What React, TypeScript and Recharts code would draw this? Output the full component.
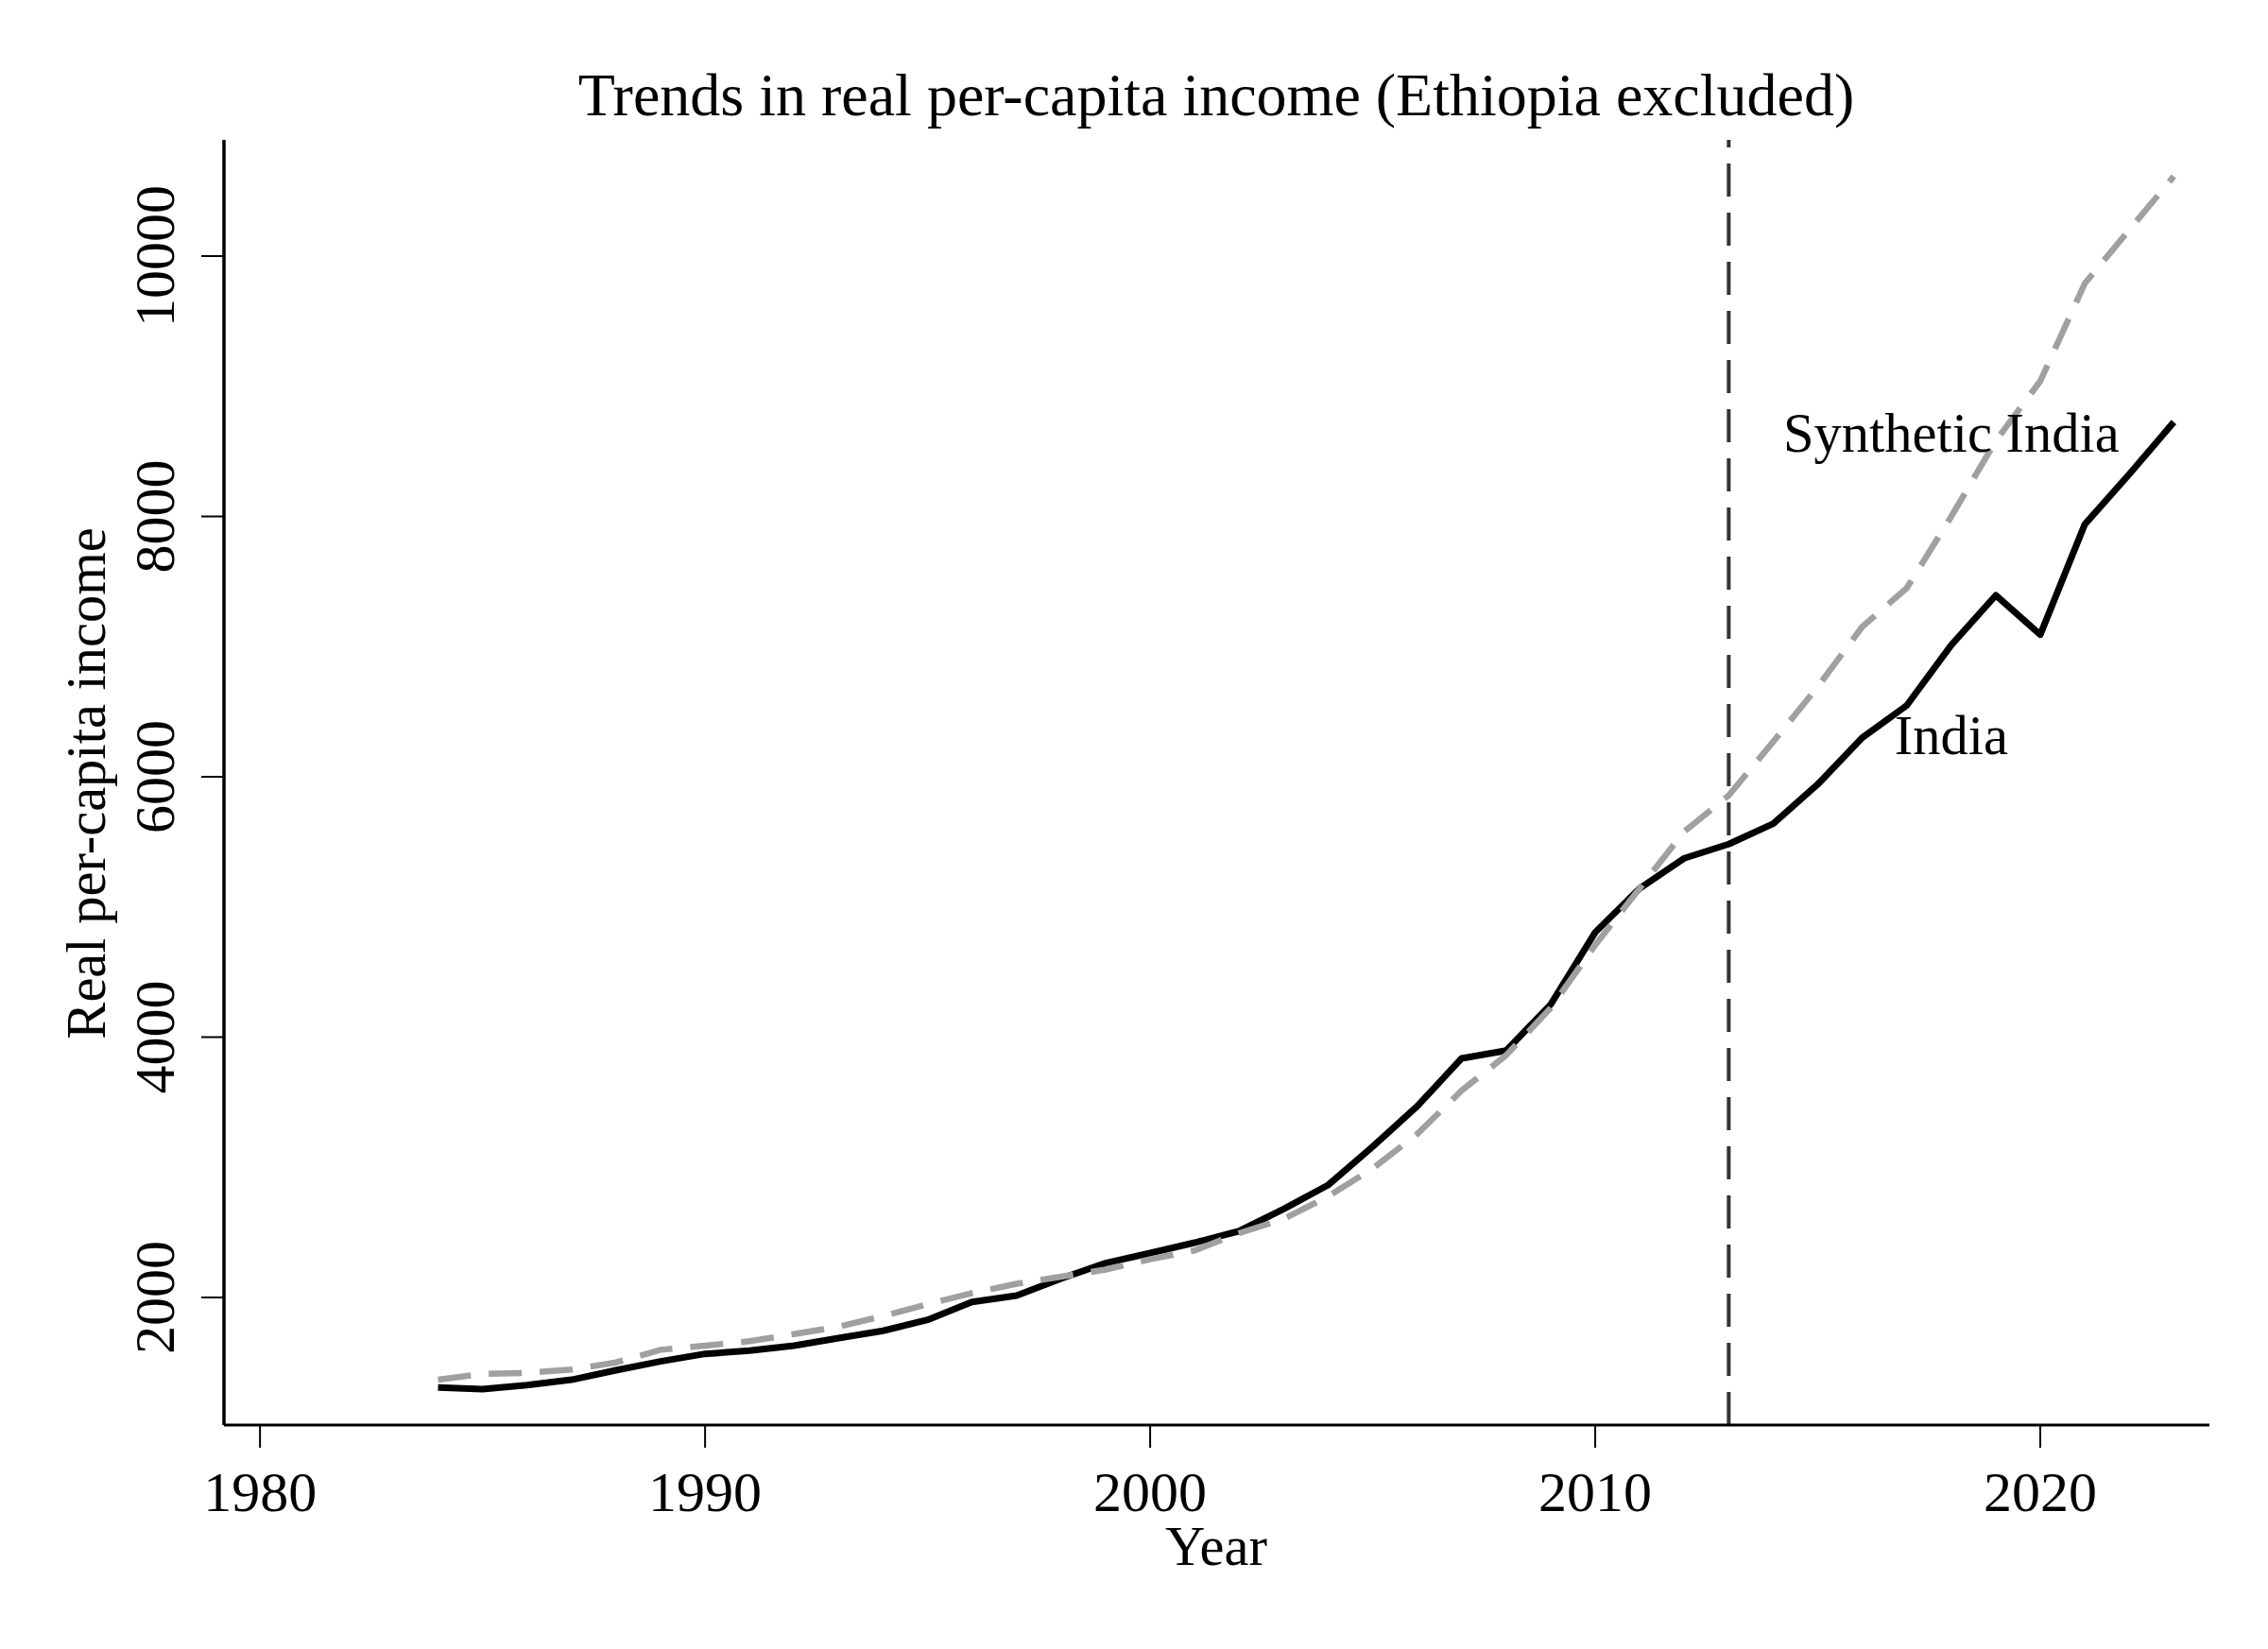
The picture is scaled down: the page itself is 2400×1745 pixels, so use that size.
import React from 'react';
import { LineChart, Line, XAxis, YAxis, ReferenceLine, ReferenceDot, Customized } from 'recharts';

const years = [1984, 1985, 1986, 1987, 1988, 1989, 1990, 1991, 1992, 1993, 1994, 1995, 1996, 1997, 1998, 1999, 2000, 2001, 2002, 2003, 2004, 2005, 2006, 2007, 2008, 2009, 2010, 2011, 2012, 2013, 2014, 2015, 2016, 2017, 2018, 2019, 2020, 2021, 2022, 2023];

const india = [1308, 1296, 1327, 1368, 1441, 1509, 1567, 1591, 1630, 1688, 1744, 1828, 1966, 2015, 2145, 2264, 2341, 2421, 2510, 2680, 2864, 3159, 3469, 3837, 3897, 4251, 4805, 5143, 5374, 5483, 5640, 5942, 6300, 6548, 7012, 7394, 7092, 7939, 8325, 8725];

const synthetic = [1368, 1412, 1421, 1446, 1501, 1598, 1630, 1664, 1719, 1775, 1857, 1949, 2034, 2105, 2160, 2214, 2293, 2361, 2494, 2603, 2777, 2990, 3256, 3590, 3861, 4224, 4708, 5143, 5579, 5857, 6270, 6692, 7152, 7450, 8000, 8580, 9040, 9790, 10202, 10613];

const xTicks = [1980, 1990, 2000, 2010, 2020];
const yTicks = [2000, 4000, 6000, 8000, 10000];
const treatmentYear = 2013;

const titleText = 'Trends in real per-capita income (Ethiopia excluded)';
const xLabel = 'Year';
const yLabel = 'Real per-capita income';
const syntheticLabel = { text: 'Synthetic India', year: 2018, value: 8500 };
const indiaLabel = { text: 'India', year: 2018, value: 6175 };

const data = years.map((y, i) => ({ year: y, india: india[i], synthetic: synthetic[i] }));

const FONT = '"Liberation Serif", "Times New Roman", serif';
const FS_TICK = 60;
const FS_LABEL = 58.5;
const FS_TITLE = 64;

const XTick = (props: any) => {
  const { x, y, payload } = props;
  return (
    <text x={x} y={y + 67} textAnchor="middle" fontFamily={FONT} fontSize={FS_TICK} fill="#000">
      {payload.value}
    </text>
  );
};

const YTick = (props: any) => {
  const { x, y, payload } = props;
  return (
    <text
      x={x}
      y={y}
      transform={`rotate(-90, ${x}, ${y})`}
      textAnchor="middle"
      fontFamily={FONT}
      fontSize={FS_TICK}
      fill="#000"
    >
      {payload.value}
    </text>
  );
};

const Texts = () => (
  <g>
    <text x={1287} y={122} textAnchor="middle" fontFamily={FONT} fontSize={FS_TITLE} fill="#000">
      {titleText}
    </text>
    <text x={1287} y={1656} textAnchor="middle" fontFamily={FONT} fontSize={FS_LABEL} fill="#000">
      {xLabel}
    </text>
    <text
      x={111}
      y={829}
      transform="rotate(-90, 111, 829)"
      textAnchor="middle"
      fontFamily={FONT}
      fontSize={FS_LABEL}
      fill="#000"
    >
      {yLabel}
    </text>
  </g>
);

const makeLabelShape = (text: string) => (props: any) => (
  <text x={props.cx} y={props.cy} textAnchor="middle" fontFamily={FONT} fontSize={FS_LABEL} fill="#000">
    {text}
  </text>
);

export default function App() {
  return (
    <div style={{ position: 'absolute', left: 0, top: 0, width: 2400, height: 1745, background: '#fff' }}>
      <LineChart
        width={2400}
        height={1745}
        data={data}
        margin={{ top: 148, right: 62, left: 137, bottom: 137 }}
      >
        <XAxis
          dataKey="year"
          type="number"
          domain={[1979.19, 2023.8]}
          ticks={xTicks}
          allowDataOverflow
          height={100}
          tickSize={24}
          tickMargin={0}
          axisLine={{ stroke: '#000', strokeWidth: 3 }}
          tickLine={{ stroke: '#000', strokeWidth: 2 }}
          tick={<XTick />}
          interval={0}
        />
        <YAxis
          type="number"
          domain={[1020, 10893]}
          ticks={yTicks}
          allowDataOverflow
          width={100}
          tickSize={24}
          tickMargin={29}
          axisLine={{ stroke: '#000', strokeWidth: 3.5 }}
          tickLine={{ stroke: '#000', strokeWidth: 2 }}
          tick={<YTick />}
          interval={0}
        />
        <ReferenceLine x={treatmentYear} stroke="#333" strokeWidth={4} strokeDasharray="35 17" />
        <Line
          type="linear"
          dataKey="india"
          stroke="#000"
          strokeWidth={7}
          dot={false}
          isAnimationActive={false}
          strokeLinejoin="round"
        />
        <Line
          type="linear"
          dataKey="synthetic"
          stroke="#a0a0a0"
          strokeWidth={6.5}
          strokeDasharray="35 19"
          dot={false}
          isAnimationActive={false}
        />
        <ReferenceDot
          x={syntheticLabel.year}
          y={syntheticLabel.value}
          r={0}
          shape={makeLabelShape(syntheticLabel.text)}
        />
        <ReferenceDot
          x={indiaLabel.year}
          y={indiaLabel.value}
          r={0}
          shape={makeLabelShape(indiaLabel.text)}
        />
        <Customized component={Texts} />
      </LineChart>
    </div>
  );
}
